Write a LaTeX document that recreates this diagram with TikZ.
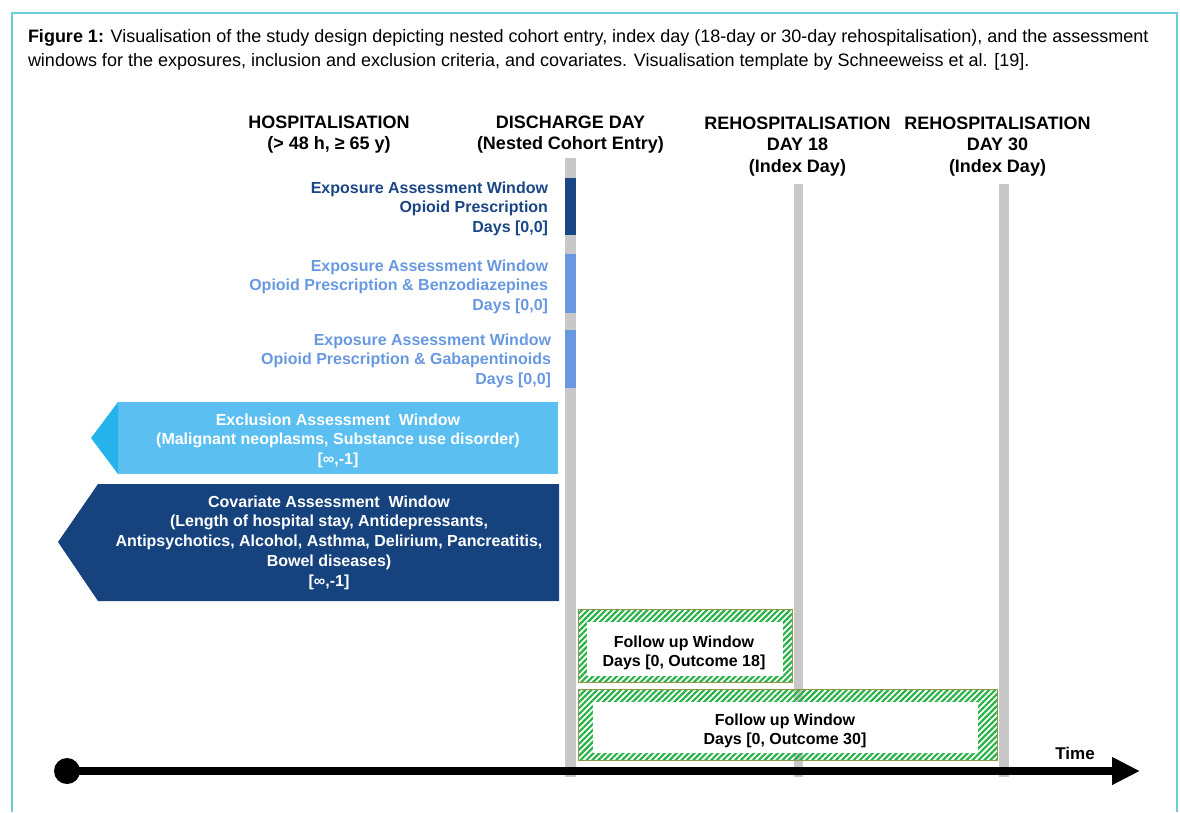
\documentclass[tikz,border=0pt]{standalone}
\usepackage{fontspec}
\setmainfont{Liberation Sans}
\usetikzlibrary{patterns.meta,arrows.meta}
\definecolor{framecol}{RGB}{108,205,218}
\definecolor{barg}{RGB}{200,200,200}
\definecolor{navy}{RGB}{27,70,133}
\definecolor{covnavy}{RGB}{22,66,126}
\definecolor{lblue}{RGB}{104,153,224}
\definecolor{exclbody}{RGB}{91,191,241}
\definecolor{excltip}{RGB}{38,178,234}
\definecolor{hatchgreen}{RGB}{40,178,72}
\definecolor{olivedge}{RGB}{150,150,70}
\newcommand{\mlines}[2]{\begin{tabular}[t]{@{}#1@{}}#2\end{tabular}}
\tikzset{
  hdr/.style={font=\bfseries\fontsize{18}{21.5}\selectfont, anchor=base},
  expo/.style={font=\bfseries\fontsize{16}{19.5}\selectfont, anchor=base east},
  wintext/.style={font=\bfseries\fontsize{16}{19.75}\selectfont, anchor=base, text=white},
  futext/.style={font=\bfseries\fontsize{16}{19}\selectfont, anchor=base},
  hatchbox/.style={pattern={Lines[angle=45,distance=4.2pt,line width=2.2pt]}, pattern color=hatchgreen},
}
\begin{document}
\begin{tikzpicture}[x=1pt,y=-1pt, every node/.style={inner sep=0pt, outer sep=0pt}]
\useasboundingbox (0,0) rectangle (1180,812);
% frame
\draw[framecol, line width=1.5pt] (12,812) -- (12,13) -- (1177,13) -- (1177,812);
% caption
\node[anchor=base west, font=\fontsize{18}{24}\selectfont] (cap) at (28,42)
  {\mlines{l}{\textbf{Figure 1:} Visualisation of the study design depicting nested cohort entry, index day (18-day or 30-day rehospitalisation), and the assessment\\windows for the exposures, inclusion and exclusion criteria, and covariates. Visualisation template by Schneeweiss et al. [19].}};
% headers
\node[hdr] (h1) at (329,128) {\mlines{c}{HOSPITALISATION\\(> 48 h, ≥ 65 y)}};
\node[hdr] (h2) at (570.5,128) {\mlines{c}{DISCHARGE DAY\\(Nested Cohort Entry)}};
\node[hdr] (h3) at (797.5,129) {\mlines{c}{REHOSPITALISATION\\DAY 18\\(Index Day)}};
\node[hdr] (h4) at (997.5,129) {\mlines{c}{REHOSPITALISATION\\DAY 30\\(Index Day)}};
% vertical day bars
\fill[barg] (565,158) rectangle (576,777);
\fill[barg] (794,184) rectangle (803,777);
\fill[barg] (999,184) rectangle (1009,777);
% exposure bars
\fill[navy] (565,178) rectangle (576,235);
\fill[lblue] (565,254) rectangle (576,313);
\fill[lblue] (565,330) rectangle (576,388);
% exposure texts
\node[expo, text=navy] (e1) at (548,193) {\mlines{r}{Exposure Assessment Window\\Opioid Prescription\\Days [0,0]}};
\node[expo, text=lblue] (e2) at (548,271) {\mlines{r}{Exposure Assessment Window\\Opioid Prescription \& Benzodiazepines\\Days [0,0]}};
\node[expo, text=lblue] (e3) at (551,345) {\mlines{r}{Exposure Assessment Window\\Opioid Prescription \& Gabapentinoids\\Days [0,0]}};
% exclusion window
\fill[exclbody] (118,402) rectangle (558,474);
\fill[excltip] (91,438) -- (118,402) -- (118,474) -- cycle;
\node[wintext] (excl) at (338,425) {\mlines{c}{Exclusion Assessment~ Window\\(Malignant neoplasms, Substance use disorder)\\{}[∞,-1]}};
% covariate window
\fill[covnavy] (58,542) -- (98,484) -- (559,484) -- (559,601) -- (98,601) -- cycle;
\node[wintext] (cov) at (329,507) {\mlines{c}{Covariate Assessment~ Window\\(Length of hospital stay, Antidepressants,\\Antipsychotics, Alcohol, Asthma, Delirium, Pancreatitis,\\Bowel diseases)\\{}[∞,-1]}};
% follow up windows
\fill[hatchbox] (578,609) rectangle (792,682);
\draw[olivedge, line width=0.6pt] (578,609) rectangle (792,682);
\fill[white] (587,622) rectangle (783,676);
\node[futext] (fu18) at (684,647) {\mlines{c}{Follow up Window\\Days [0, Outcome 18]}};
\fill[hatchbox] (578,689) rectangle (997,760);
\draw[olivedge, line width=0.6pt] (578,689) rectangle (997,760);
\fill[white] (593,702) rectangle (978,753);
\node[futext] (fu30) at (785,725) {\mlines{c}{Follow up Window\\Days [0, Outcome 30]}};
% time axis
\node[circle, fill=black, minimum size=26pt] (dot) at (67,771) {};
\coordinate (tend) at (1140,771);
\draw[line width=8pt, -{Triangle[length=28pt,width=26pt]}] (dot.center) -- (tend);
\node[font=\bfseries\fontsize{17}{20}\selectfont, anchor=base] (time) at (1075,759) {Time};
\end{tikzpicture}
\end{document}
